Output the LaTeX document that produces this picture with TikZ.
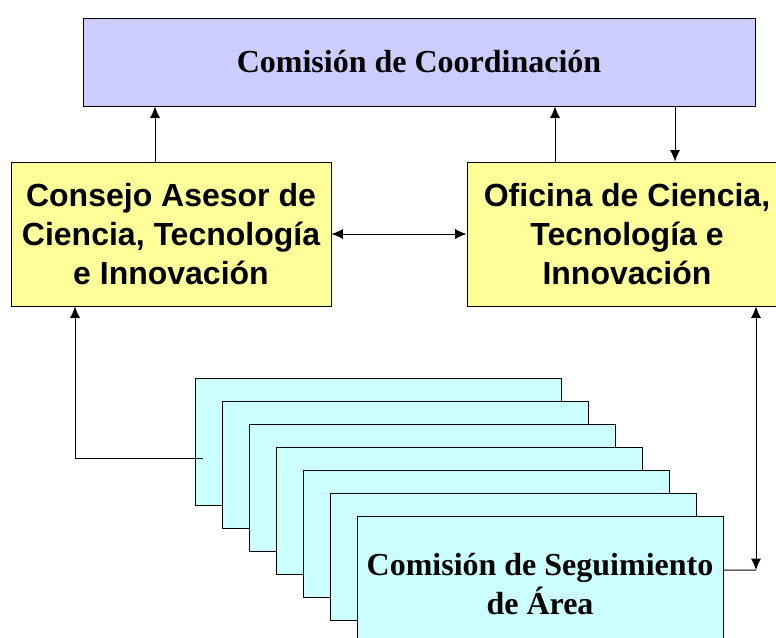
\documentclass[tikz,border=0pt]{standalone}
\usepackage{fontspec}
\setmainfont{Liberation Serif}
\newfontfamily\arialfont{Liberation Sans}
\usetikzlibrary{arrows.meta}

\definecolor{lavanda}{HTML}{CCCCFF}
\definecolor{amarillo}{HTML}{FFFF99}
\definecolor{celeste}{HTML}{CCFFFF}

\tikzset{
	serifbox/.style={draw, line width=0.75pt, align=center, inner sep=0pt,
		font=\rmfamily\bfseries\fontsize{24}{28.5}\selectfont},
	sansbox/.style={draw, line width=0.75pt, fill=amarillo, align=center, inner sep=0pt,
		minimum width=240pt, minimum height=108pt,
		font=\arialfont\bfseries\fontsize{24}{29}\selectfont},
	stackbox/.style={serifbox, fill=celeste, minimum width=274.5pt, minimum height=95.25pt},
	arr/.style={line width=0.75pt, -{Latex[length=8.5pt,width=7.5pt]}},
	darr/.style={line width=0.75pt, {Latex[length=8.5pt,width=7.5pt]}-{Latex[length=8.5pt,width=7.5pt]}}
}

\begin{document}
\begin{tikzpicture}[x=0.75pt,y=-0.75pt]
		\useasboundingbox (0,0) rectangle (776,637);

		%% top
		\node[serifbox, fill=lavanda, minimum width=504pt, minimum height=66pt] at (419,62)(coord){Comisión de Coordinación};

		%% middle
		\node[sansbox] at (171,234)(cons){Consejo Asesor de\\Ciencia, Tecnología\\e Innovación};
		\node[sansbox] at (627,234)(ofi){Oficina de Ciencia,\\Tecnología e\\Innovación};

		%% stack of area commissions
		\foreach \k in {1,...,6}
			\node[stackbox] at ({351+27*\k},{418.5+23*\k})(seg\k){};
		\node[stackbox] at (540,579.5)(seg7){\raisebox{-12pt}[0pt][0pt]{\begin{tabular}{@{}c@{}}Comisión de Seguimiento\\de Área\end{tabular}}};

		\coordinate (lnk) at (203,458);
		\coordinate (esq) at (756,570);

		%% arrows
		\draw[arr] ([xshift=-12pt]cons.north) -- ([xshift=-12pt]cons.north |- coord.south);
		\draw[arr] ([xshift=-54pt]ofi.north) -- ([xshift=-54pt]ofi.north |- coord.south);
		\draw[arr] ([xshift=36pt]ofi.north |- coord.south) -- ([xshift=36pt]ofi.north);
		\draw[darr] (cons.east) -- (ofi.west);
		\draw[arr] (lnk) -| ([xshift=-72pt]cons.south);
		\draw[line width=0.75pt] ([yshift=7.1pt]seg7.east) -- (esq);
		\draw[darr] (esq) -- (esq |- ofi.south);
	\end{tikzpicture}
\end{document}
